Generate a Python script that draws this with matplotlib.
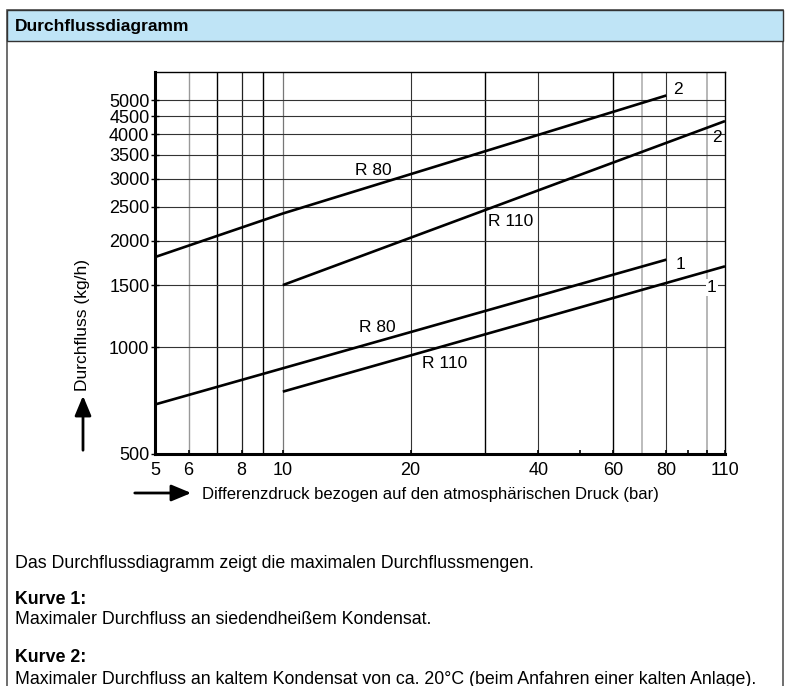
#!/usr/bin/env python3
"""Durchflussdiagramm: max. Durchfluss R 80 / R 110, log-log."""
import matplotlib
matplotlib.use("Agg")
import matplotlib.pyplot as plt
from matplotlib.patches import Rectangle, FancyArrowPatch

# Kurven (Differenzdruck bar, Durchfluss kg/h)
r80_k2_x = [5, 10, 80]
r80_k2_y = [1800, 2390, 5150]
r110_k2_x = [10, 110]
r110_k2_y = [1500, 4360]
r80_k1_x = [5, 80]
r80_k1_y = [690, 1770]
r110_k1_x = [10, 110]
r110_k1_y = [750, 1695]

x_ticks = [5, 6, 8, 10, 20, 40, 60, 80, 110]
x_minor = [50, 90, 100]
y_ticks = [500, 1000, 1500, 2000, 2500, 3000, 3500, 4000, 4500, 5000]
# vertikale Gitterlinien: (Wert, Farbe, Breite)
x_grid = [(6, "#999999", 1.0), (7, "black", 1.0), (8, "#222222", 0.9),
          (9, "black", 1.0), (10, "#777777", 0.9), (20, "#333333", 0.8),
          (30, "black", 1.0), (40, "#333333", 0.8), (60, "black", 1.0),
          (70, "#aaaaaa", 1.1), (80, "#333333", 0.8), (100, "#aaaaaa", 1.2)]
y_grid = [1000, 1500, 2000, 2500, 3000, 3500, 4000, 4500, 5000]

# Beschriftungen an den Kurven
curve_labels = [
    ("R 80", 16.3, 3160, "center"),
    ("R 110", 30.4, 2265, "left"),
    ("R 80", 16.7, 1140, "center"),
    ("R 110", 24.1, 902, "center"),
    ("2", 85.3, 5370, "center"),
    ("2", 105.3, 3910, "center"),
    ("1", 86.2, 1715, "center"),
]

plt.rcParams["font.family"] = ["Liberation Sans", "DejaVu Sans"]

W, H = 790, 686
fig = plt.figure(figsize=(W / 100, H / 100), dpi=100)

# Rahmen + Titelleiste
fig.add_artist(Rectangle((7 / W, -0.01), 776 / W, 1.01 - 10 / H,
                         transform=fig.transFigure, fill=False,
                         edgecolor="#555555", linewidth=1.2))
fig.add_artist(Rectangle((7 / W, 1 - 41 / H), 776 / W, 31 / H,
                         transform=fig.transFigure, facecolor="#bfe4f6",
                         edgecolor="#333333", linewidth=1.0))
fig.text(15 / W, 1 - 26 / H, "Durchflussdiagramm",
         fontsize=12.5, fontweight="bold", va="center", ha="left")

ax = fig.add_axes([155 / W, 1 - 454 / H, 570 / W, 382 / H])
ax.set_xscale("log")
ax.set_yscale("log")
ax.set_xlim(5, 110)
ax.set_ylim(500, 6000)

for xv, c, lw in x_grid:
    ax.axvline(xv, color=c, linewidth=lw, zorder=1)
for yv in y_grid:
    ax.axhline(yv, color="#333333", linewidth=0.8, zorder=1)

for xs, ys in [(r80_k2_x, r80_k2_y), (r110_k2_x, r110_k2_y),
               (r80_k1_x, r80_k1_y), (r110_k1_x, r110_k1_y)]:
    ax.plot(xs, ys, color="black", linewidth=1.9, zorder=3,
            solid_capstyle="butt", clip_on=False)

for txt, xv, yv, ha in curve_labels:
    ax.text(xv, yv, txt, fontsize=12.5, ha=ha, va="center", zorder=4)
ax.text(102.5, 1476, "1", fontsize=12.5, ha="center", va="center", zorder=4,
        bbox=dict(facecolor="white", edgecolor="none", pad=0.5))

ax.set_xticks(x_ticks)
ax.set_xticklabels([str(v) for v in x_ticks])
ax.set_xticks(x_minor, minor=True)
ax.set_xticklabels([], minor=True)
ax.set_yticks(y_ticks)
ax.set_yticklabels([str(v) for v in y_ticks])
ax.yaxis.set_minor_locator(matplotlib.ticker.NullLocator())
ax.tick_params(axis="x", which="both", direction="in", length=3, width=1.2,
               labelsize=13, pad=6)
ax.tick_params(axis="y", direction="inout", length=6, width=1.0,
               labelsize=13, pad=1)
for s in ["left", "bottom"]:
    ax.spines[s].set_linewidth(2.2)
for s in ["top", "right"]:
    ax.spines[s].set_linewidth(1.0)

# Achsenbeschriftungen mit Pfeilen
fig.text(83 / W, 1 - 325 / H, "Durchfluss (kg/h)", rotation=90,
         fontsize=12.5, ha="center", va="center")
fig.add_artist(FancyArrowPatch(
    (83 / W, 1 - 453 / H), (83 / W, 1 - 393 / H), transform=fig.transFigure,
    arrowstyle="-|>,head_length=6,head_width=2.5", color="black",
    linewidth=2.0, mutation_scale=2))
fig.text(202 / W, 1 - 495 / H,
         "Differenzdruck bezogen auf den atmosphärischen Druck (bar)",
         fontsize=12, ha="left", va="center")
fig.add_artist(FancyArrowPatch(
    (132 / W, 1 - 493 / H), (194 / W, 1 - 493 / H), transform=fig.transFigure,
    arrowstyle="-|>,head_length=6,head_width=2.5", color="black",
    linewidth=2.0, mutation_scale=2))

# Erläuterungen
notes = [
    (563, "Das Durchflussdiagramm zeigt die maximalen Durchflussmengen.", "normal"),
    (600, "Kurve 1:", "bold"),
    (620, "Maximaler Durchfluss an siedendheißem Kondensat.", "normal"),
    (657, "Kurve 2:", "bold"),
    (679, "Maximaler Durchfluss an kaltem Kondensat von ca. 20°C "
          "(beim Anfahren einer kalten Anlage).", "normal"),
]
for yp, txt, fw in notes:
    fig.text(15 / W, 1 - yp / H, txt, fontsize=12.8,
             fontweight=fw, ha="left", va="center")

fig.savefig("out.png", dpi=100)
